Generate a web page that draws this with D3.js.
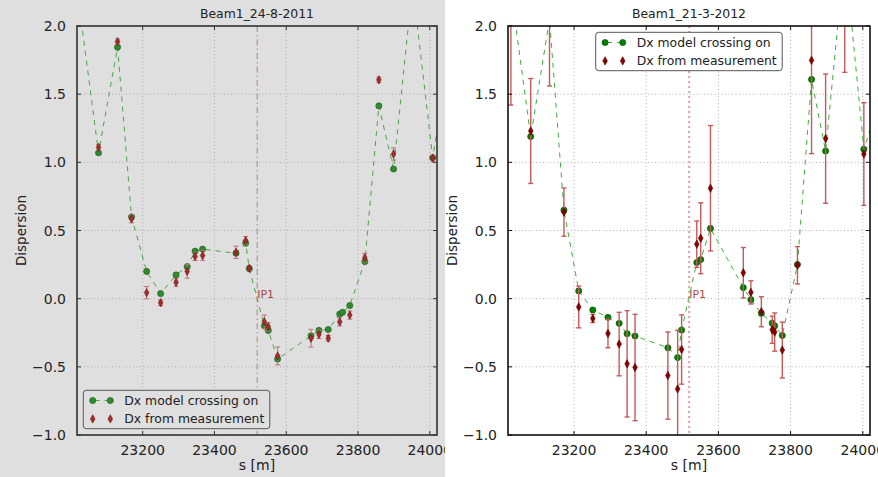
<!DOCTYPE html>
<html>
<head>
<meta charset="utf-8">
<script src="https://cdn.jsdelivr.net/npm/d3@7"></script>
<style>
  body { margin: 0; background: #fff; }
  text { font-family: "DejaVu Sans", sans-serif; }
</style>
</head>
<body>
<svg id="chart" width="878" height="477"></svg>
<script>
// --- data ---
const xTicks = [23200, 23400, 23600, 23800, 24000];
const yTicks = [-1.0, -0.5, 0.0, 0.5, 1.0, 1.5, 2.0];
const ip1S = 23519;

// Beam1_24-8-2011
const sModel2011 = [23025, 23077, 23130, 23169, 23211, 23250, 23293, 23324, 23346, 23367, 23460, 23487, 23497,
  23539, 23550, 23576, 23669, 23691, 23717, 23749, 23757, 23777, 23819, 23858, 23899, 23952, 24008, 24040];
const dxModel2011 = [2.11, 1.07, 1.845, 0.60, 0.20, 0.037, 0.174, 0.235, 0.348, 0.363, 0.333, 0.407, 0.22,
  -0.20, -0.233, -0.443, -0.272, -0.233, -0.226, -0.113, -0.10, -0.05, 0.272, 1.414, 0.951, 2.30, 1.035, 1.55];
const sMeas2011 = [23077, 23130, 23169, 23211, 23250, 23293, 23324, 23346, 23367, 23460, 23487, 23497,
  23539, 23550, 23576, 23669, 23691, 23717, 23749, 23777, 23819, 23858, 23899, 24008];
const dxMeas2011 = [1.11, 1.885, 0.586, 0.044, -0.03, 0.12, 0.20, 0.31, 0.316, 0.34, 0.426, 0.223,
  -0.17, -0.206, -0.42, -0.29, -0.262, -0.29, -0.17, -0.12, 0.30, 1.605, 1.061, 1.03];
const errMeas2011 = [0.02, 0.02, 0.03, 0.045, 0.02, 0.03, 0.05, 0.03, 0.035, 0.045, 0.03, 0.02,
  0.05, 0.03, 0.065, 0.065, 0.03, 0.02, 0.03, 0.03, 0.03, 0.02, 0.045, 0.02];

// Beam1_21-3-2012
const sModel2012 = [23025, 23080, 23132, 23172, 23213, 23252, 23294, 23325, 23347, 23369, 23460, 23487, 23498,
  23540, 23551, 23578, 23669, 23690, 23719, 23749, 23756, 23777, 23819, 23858, 23897, 23950, 24003, 24040];
const dxModel2012 = [2.26, 1.189, 2.05, 0.649, 0.057, -0.083, -0.137, -0.181, -0.257, -0.274, -0.36, -0.432, -0.23,
  0.265, 0.287, 0.515, 0.081, -0.007, -0.108, -0.18, -0.20, -0.27, 0.25, 1.608, 1.083, 2.53, 1.096, 1.41];
const sMeas2012 = [23025, 23080, 23132, 23172, 23213, 23252, 23294, 23325, 23347, 23369, 23460, 23487, 23498,
  23540, 23551, 23578, 23669, 23690, 23719, 23749, 23756, 23777, 23819, 23858, 23897, 23950, 24003];
const dxMeas2012 = [2.3, 1.23, 2.2, 0.635, -0.061, -0.145, -0.255, -0.333, -0.478, -0.505, -0.564, -0.662, -0.373,
  0.40, 0.443, 0.81, 0.19, 0.046, -0.096, -0.228, -0.245, -0.377, 0.245, 1.748, 1.174, 2.5, 1.061];
const errMeas2012 = [0.88, 0.385, 0.64, 0.177, 0.153, 0.03, 0.105, 0.233, 0.39, 0.39, 0.32, 0.43, 0.254,
  0.17, 0.26, 0.46, 0.185, 0.085, 0.11, 0.1, 0.14, 0.205, 0.137, 0.684, 0.474, 0.84, 0.377];

const svg = d3.select('#chart');
const fmt = d => (d < 0 ? '\u2212' : '') + Math.abs(d).toFixed(1);

function drawPanel(p) {
  // figure background for this half
  svg.append('rect').attr('x', p.figX).attr('y', 0).attr('width', p.figW).attr('height', 477).attr('fill', p.bg);

  const top = 26, bottom = 435;
  const x = d3.scaleLinear().domain([23017, 24020]).range([p.left, p.right]);
  const y = d3.scaleLinear().domain([-1, 2]).range([bottom, top]);

  const clipId = 'clip' + p.id;
  svg.append('clipPath').attr('id', clipId)
    .append('rect').attr('x', p.left).attr('y', top).attr('width', p.right - p.left).attr('height', bottom - top);

  // grid
  const grid = svg.append('g').attr('stroke', '#a0a0a0').attr('stroke-width', 0.8).attr('stroke-dasharray', '1,2.5');
  xTicks.forEach(t => grid.append('line').attr('x1', x(t)).attr('x2', x(t)).attr('y1', top).attr('y2', bottom));
  yTicks.forEach(t => grid.append('line').attr('x1', p.left).attr('x2', p.right).attr('y1', y(t)).attr('y2', y(t)));

  const plot = svg.append('g').attr('clip-path', `url(#${clipId})`);

  // IP1 marker
  plot.append('line')
    .attr('x1', x(ip1S)).attr('x2', x(ip1S)).attr('y1', top).attr('y2', bottom)
    .attr('stroke', p.ipColor).attr('stroke-width', p.ipWidth).attr('stroke-dasharray', p.ipDash);
  plot.append('text').attr('x', x(ip1S)).attr('y', y(0) - 0.5)
    .attr('font-size', 11).attr('fill', '#a84848').text('IP1');

  // model line + markers
  const line = d3.line().x(d => x(d[0])).y(d => y(d[1]));
  const model = p.sModel.map((s, i) => [s, p.dxModel[i]]);
  plot.append('path').datum(model).attr('d', line)
    .attr('fill', 'none').attr('stroke', p.lineColor).attr('stroke-width', 1).attr('stroke-dasharray', '5,5');
  plot.selectAll('.gm').data(model).join('circle')
    .attr('cx', d => x(d[0])).attr('cy', d => y(d[1])).attr('r', 3.1)
    .attr('fill', p.green).attr('stroke', p.greenEdge).attr('stroke-width', 0.6);

  // measurement with error bars
  const meas = p.sMeas.map((s, i) => [s, p.dxMeas[i], p.errMeas[i]]);
  const eb = plot.append('g').attr('stroke', p.errColor).attr('stroke-width', p.errWidth);
  meas.forEach(d => {
    const cx = x(d[0]), y1 = y(d[1] + d[2]), y2 = y(d[1] - d[2]);
    eb.append('line').attr('x1', cx).attr('x2', cx).attr('y1', y1).attr('y2', y2);
    eb.append('line').attr('x1', cx - 2.5).attr('x2', cx + 2.5).attr('y1', y1).attr('y2', y1);
    eb.append('line').attr('x1', cx - 2.5).attr('x2', cx + 2.5).attr('y1', y2).attr('y2', y2);
  });
  const diamond = 'M0,-4.2L2.3,0L0,4.2L-2.3,0Z';
  plot.selectAll('.rm').data(meas).join('path')
    .attr('d', diamond).attr('transform', d => `translate(${x(d[0])},${y(d[1])})`)
    .attr('fill', p.red).attr('stroke', p.redEdge).attr('stroke-width', 0.6);

  // frame
  svg.append('rect').attr('x', p.left).attr('y', top).attr('width', p.right - p.left).attr('height', bottom - top)
    .attr('fill', 'none').attr('stroke', p.frame).attr('stroke-width', 1.6);

  // ticks inward, all sides
  const tk = svg.append('g').attr('stroke', p.frame).attr('stroke-width', 1);
  xTicks.forEach(t => {
    tk.append('line').attr('x1', x(t)).attr('x2', x(t)).attr('y1', bottom).attr('y2', bottom - 4);
    tk.append('line').attr('x1', x(t)).attr('x2', x(t)).attr('y1', top).attr('y2', top + 4);
  });
  yTicks.forEach(t => {
    tk.append('line').attr('x1', p.left).attr('x2', p.left + 4).attr('y1', y(t)).attr('y2', y(t));
    tk.append('line').attr('x1', p.right).attr('x2', p.right - 4).attr('y1', y(t)).attr('y2', y(t));
  });

  // tick labels
  const lab = svg.append('g').attr('font-size', 14).attr('fill', '#222');
  xTicks.forEach(t => lab.append('text').attr('x', x(t)).attr('y', 455).attr('text-anchor', 'middle').text(t));
  yTicks.forEach(t => lab.append('text').attr('x', p.left - 11).attr('y', y(t) + 5).attr('text-anchor', 'end').text(fmt(t)));

  // titles
  const cx = (p.left + p.right) / 2;
  svg.append('text').attr('x', cx).attr('y', 18).attr('text-anchor', 'middle')
    .attr('font-size', 12.4).attr('fill', '#222').text(p.title);
  svg.append('text').attr('x', cx).attr('y', 470).attr('text-anchor', 'middle')
    .attr('font-size', 14).attr('fill', '#222').text('s [m]');
  svg.append('text').attr('transform', `translate(${p.left - 51.5},${(top + bottom) / 2}) rotate(-90)`)
    .attr('text-anchor', 'middle').attr('font-size', 13.5).attr('fill', '#222').text('Dispersion');

  // legend
  const lg = svg.append('g').attr('transform', `translate(${p.legX},${p.legY})`);
  lg.append('rect').attr('width', 186.5).attr('height', 38.4).attr('rx', 3)
    .attr('fill', p.bg).attr('stroke', '#555').attr('stroke-width', 1);
  lg.append('line').attr('x1', 9.4).attr('x2', 27).attr('y1', 10.2).attr('y2', 10.2)
    .attr('stroke', p.lineColor).attr('stroke-dasharray', '5,5').attr('stroke-dashoffset', -2);
  [9.4, 27].forEach(mx => {
    lg.append('circle').attr('cx', mx).attr('cy', 10.2).attr('r', 3.1)
      .attr('fill', p.green).attr('stroke', p.greenEdge).attr('stroke-width', 0.6);
    lg.append('path').attr('d', diamond).attr('transform', `translate(${mx},28.6)`)
      .attr('fill', p.red).attr('stroke', p.redEdge).attr('stroke-width', 0.6);
  });
  lg.append('text').attr('x', 41).attr('y', 14.6).attr('font-size', 12.4).attr('fill', '#222').text('Dx model crossing on');
  lg.append('text').attr('x', 41).attr('y', 33).attr('font-size', 12.4).attr('fill', '#222').text('Dx from measurement');
}

drawPanel({
  id: 'a', figX: 0, figW: 445, bg: '#dfdfdf', left: 77, right: 437, title: 'Beam1_24-8-2011',
  sModel: sModel2011, dxModel: dxModel2011, sMeas: sMeas2011, dxMeas: dxMeas2011, errMeas: errMeas2011,
  lineColor: '#4aa34a', green: '#2e8b2e', greenEdge: '#1d5a1d', red: '#a52a2a', redEdge: '#6a1a1a',
  errColor: '#c07070', errWidth: 1, frame: '#333',
  ipColor: '#b88080', ipWidth: 1, ipDash: '6,3,1.5,3',
  legX: 83.3, legY: 390.3
});

drawPanel({
  id: 'b', figX: 445, figW: 433, bg: '#ffffff', left: 508, right: 870, title: 'Beam1_21-3-2012',
  sModel: sModel2012, dxModel: dxModel2012, sMeas: sMeas2012, dxMeas: dxMeas2012, errMeas: errMeas2012,
  lineColor: '#3fae3f', green: '#008000', greenEdge: '#004d00', red: '#8b0000', redEdge: '#550000',
  errColor: '#c45a5a', errWidth: 1.4, frame: '#111',
  ipColor: '#e0a0a0', ipWidth: 2, ipDash: '2,3',
  legX: 595.7, legY: 32.3
});
</script>
</body>
</html>
